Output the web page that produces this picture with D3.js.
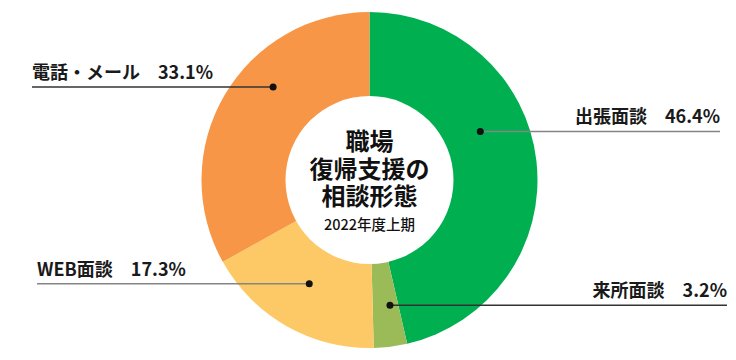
<!DOCTYPE html>
<html><head><meta charset="utf-8">
<script src="https://cdn.jsdelivr.net/npm/d3@7"></script>
<style>
html,body{margin:0;padding:0;background:#fff;}
svg{display:block;}
</style>
</head><body>
<svg id="chart" width="736" height="360"></svg>
<script>
// data
const categories = ["出張面談", "来所面談", "WEB面談", "電話・メール"];
const shares = [46.4, 3.2, 17.3, 33.1];
const colors = ["#00B050", "#9BBB59", "#FDC966", "#F79646"];
const centerTitle = ["職場", "復帰支援の", "相談形態"];
const centerSub = "2022年度上期";

// label layout (annotation positions)
const labelLayout = [
  {frac: 0.397, r: 121, side: "right", endX: 720, stroke: "#858585"},
  {frac: 0.32,  r: 127, side: "right", endX: 727, stroke: "#333"},
  {frac: 0.507, r: 120, side: "left",  endX: 37,  stroke: "#858585"},
  {frac: 0.614, r: 134, side: "left",  endX: 32,  stroke: "#333"}
];

const W = 736, H = 360, cx = 369.5, cy = 180, outerR = 168, innerR = 84;
const svg = d3.select("#chart");
const g = svg.append("g").attr("transform", `translate(${cx},${cy})`);

const data = categories.map((c, i) => ({cat: c, v: shares[i], color: colors[i]}));
const pie = d3.pie().value(d => d.v).sort(null);
const arcs = pie(data);
const arc = d3.arc().innerRadius(0).outerRadius(outerR);

g.selectAll("path.slice").data(arcs).join("path")
  .attr("class", "slice")
  .attr("d", arc)
  .attr("fill", d => d.data.color);

// leader lines
const font = "'Noto Sans CJK JP','Noto Sans',sans-serif";
arcs.forEach((a, i) => {
  const L = labelLayout[i];
  const ang = a.startAngle + L.frac * (a.endAngle - a.startAngle);
  const x = L.r * Math.sin(ang), y = -L.r * Math.cos(ang);
  const ex = L.endX - cx;
  g.append("line").attr("x1", x).attr("y1", y).attr("x2", ex).attr("y2", y)
    .attr("stroke", L.stroke).attr("stroke-width", 1.5);
  g.append("circle").attr("cx", x).attr("cy", y).attr("r", 3.5).attr("fill", "#111");
  g.append("text")
    .attr("x", ex).attr("y", y - 8)
    .attr("text-anchor", L.side === "right" ? "end" : "start")
    .attr("font-family", font).attr("font-weight", 700).attr("font-size", 18)
    .attr("fill", "#1a1a1a")
    .text(a.data.cat + "\u3000" + d3.format(".1f")(a.data.v) + "%");
});

// inner white circle
g.append("circle").attr("r", innerR).attr("fill", "#fff");

// center text
g.selectAll("text.title").data(centerTitle).join("text")
  .attr("class", "title")
  .attr("x", 0).attr("y", (d, i) => -39 + i * 27.5 + 9)
  .attr("text-anchor", "middle")
  .attr("font-family", font).attr("font-weight", 700).attr("font-size", 24)
  .attr("fill", "#111")
  .text(d => d);
g.append("text").attr("x", 0).attr("y", 50)
  .attr("text-anchor", "middle")
  .attr("font-family", font).attr("font-weight", 500).attr("font-size", 14.5)
  .attr("fill", "#111")
  .text(centerSub);
</script>
</body></html>
